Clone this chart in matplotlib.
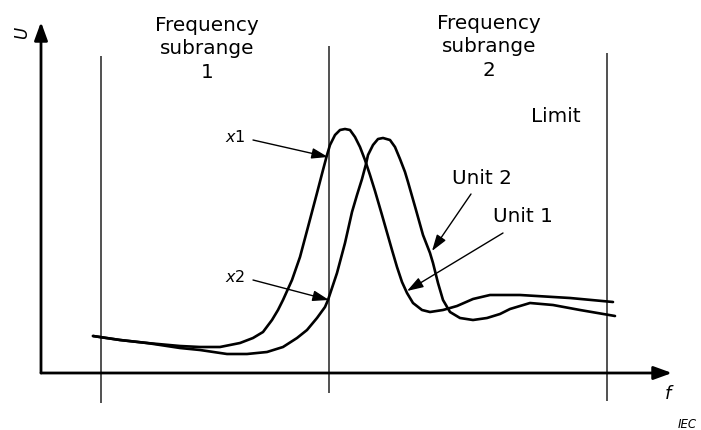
import numpy as np
import matplotlib
matplotlib.use("Agg")
import matplotlib.pyplot as plt

# curve data (f and U in arbitrary units)
unit1_f = [5.2, 7.9, 10.6, 13.9, 15.9, 17.9, 19.9, 21.2, 22.2, 23.1, 23.7, 24.2,
           25.1, 25.9, 26.7, 27.6, 28.2, 28.6, 28.9, 29.4, 29.9, 30.4, 30.9, 31.4,
           31.9, 32.4, 32.9, 33.4, 34.1, 34.7, 35.1, 35.6, 36.1, 36.6, 37.2, 38.1,
           38.9, 40.2, 41.6, 43.2, 44.9, 47.9, 52.9, 57.2]
unit1_u = [3.7, 3.3, 3.0, 2.7, 2.6, 2.6, 3.0, 3.5, 4.1, 5.3, 6.3, 7.3,
           9.3, 11.6, 14.6, 18.0, 20.3, 21.8, 22.8, 23.8, 24.3, 24.4, 24.3, 23.6,
           22.6, 21.3, 19.8, 18.2, 15.8, 13.7, 12.3, 10.6, 9.1, 8.0, 7.0, 6.3,
           6.1, 6.3, 6.7, 7.4, 7.8, 7.8, 7.5, 7.1]

unit2_f = [5.2, 7.9, 10.6, 13.9, 15.9, 18.6, 20.6, 22.6, 24.2, 25.6, 26.6, 27.6,
           28.4, 28.7, 29.6, 30.4, 31.1, 31.6, 32.1, 32.5, 32.7, 33.2, 33.7, 34.2,
           34.9, 35.4, 35.9, 36.4, 36.7, 37.5, 38.2, 38.9, 39.2, 39.7, 40.2, 40.9,
           41.9, 43.2, 44.6, 45.9, 46.9, 48.9, 51.2, 53.9, 57.4]
unit2_u = [3.7, 3.3, 3.0, 2.5, 2.3, 1.9, 1.9, 2.1, 2.6, 3.5, 4.3, 5.5,
           6.6, 7.3, 10.0, 13.0, 16.1, 17.8, 19.4, 20.9, 21.8, 22.8, 23.4, 23.5,
           23.3, 22.6, 21.4, 20.1, 19.1, 16.3, 13.8, 12.0, 11.0, 9.0, 7.3, 6.1,
           5.5, 5.3, 5.5, 5.9, 6.4, 7.0, 6.8, 6.3, 5.7]

# subrange boundaries (f) and how far each line runs (bottom, top)
limits_f = [6.0, 28.8, 56.6]
limits_lo = [-3.0, -2.0, -2.8]
limits_hi = [31.7, 32.7, 32.0]

fig = plt.figure(figsize=(7.01, 4.30), dpi=100)
ax = fig.add_axes([0, 0, 1, 1])
ax.set_xlim(-4.1, 66.0)
ax.set_ylim(-5.7, 37.3)
ax.axis("off")

# axes with arrow heads
axis_arrow = dict(arrowstyle="-|>,head_length=0.55,head_width=0.2",
                  lw=2, color="black", shrinkA=0, shrinkB=0, mutation_scale=20)
ax.annotate("", xy=(63.1, 0), xytext=(0, 0), arrowprops=axis_arrow)
ax.annotate("", xy=(0, 35.1), xytext=(0, 0), arrowprops=axis_arrow)

ax.vlines(limits_f, limits_lo, limits_hi, colors="#222222", lw=1.1)

ax.plot(unit1_f, unit1_u, color="black", lw=1.9, solid_joinstyle="round",
        solid_capstyle="round")
ax.plot(unit2_f, unit2_u, color="black", lw=1.9, solid_joinstyle="round",
        solid_capstyle="round")

fs = 14.4
ax.text(16.6, 32.4, "Frequency\nsubrange\n1", ha="center", va="center",
        fontsize=fs, linespacing=1.3)
ax.text(44.8, 32.6, "Frequency\nsubrange\n2", ha="center", va="center",
        fontsize=fs, linespacing=1.3)
ax.text(51.5, 25.6, "Limit", ha="center", va="center", fontsize=fs)
ax.text(44.1, 19.5, "Unit 2", ha="center", va="center", fontsize=fs)
ax.text(48.2, 15.6, "Unit 1", ha="center", va="center", fontsize=fs)

ax.text(-1.9, 34.0, "U", rotation=90, style="italic", ha="center", va="center",
        fontsize=12)
ax.text(62.7, -2.1, "f", style="italic", ha="center", va="center", fontsize=13)
ax.text(65.6, -5.1, "IEC", style="italic", ha="right", va="center", fontsize=8.5)

ax.text(19.4, 23.6, r"$\mathit{x}$1", ha="center", va="center", fontsize=11.5)
ax.text(19.4, 9.6, r"$\mathit{x}$2", ha="center", va="center", fontsize=11.5)

pointer = dict(arrowstyle="-|>,head_length=0.55,head_width=0.18", lw=1,
               color="black", shrinkA=0, shrinkB=0, mutation_scale=18)
ax.annotate("", xy=(28.7, 21.6), xytext=(21.2, 23.3), arrowprops=pointer)
ax.annotate("", xy=(28.8, 7.3), xytext=(21.2, 9.3), arrowprops=pointer)
ax.annotate("", xy=(39.1, 12.2), xytext=(43.0, 17.9), arrowprops=pointer)
ax.annotate("", xy=(36.6, 8.2), xytext=(46.2, 14.0), arrowprops=pointer)

fig.savefig("out.png", dpi=100)
